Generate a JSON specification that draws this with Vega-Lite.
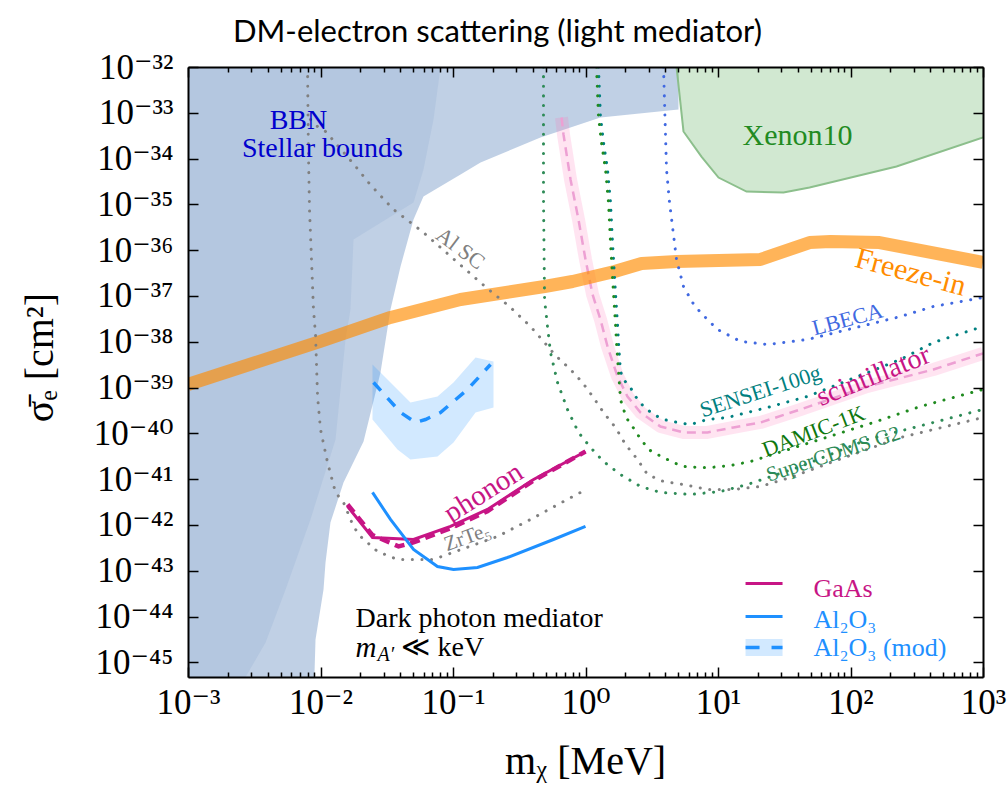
{
  "$schema": "https://vega.github.io/schema/vega-lite/v6.json",
  "width": 795,
  "height": 610,
  "autosize": {"type": "none"},
  "padding": {"left": 188, "top": 67, "right": 24, "bottom": 113},
  "background": "white",
  "config": {"view": {"stroke": null}},
  "title": {
    "text": "DM-electron scattering (light mediator)",
    "font": "Lato", "fontSize": 31, "fontWeight": "normal", "color": "black",
    "anchor": "middle", "dx": -88, "dy": 28, "offset": 5, "baseline": "alphabetic"
  },
  "resolve": {"axis": {"x": "independent", "y": "independent"}},
  "datasets": {
    "stellar": [
      {"m": 0.001, "hi": 1e-32, "lo": 1e-46}, {"m": 0.00885, "hi": 1e-32, "lo": 1e-46},
      {"m": 0.00917, "hi": 1e-32, "lo": 3.16e-45}, {"m": 0.01054, "hi": 1e-32, "lo": 3.91e-44},
      {"m": 0.01091, "hi": 1e-32, "lo": 1.52e-43}, {"m": 0.01189, "hi": 1e-32, "lo": 1.13e-42},
      {"m": 0.01492, "hi": 1e-32, "lo": 8.47e-42}, {"m": 0.02113, "hi": 1e-32, "lo": 6.65e-41},
      {"m": 0.02837, "hi": 1e-32, "lo": 2.14e-39}, {"m": 0.03374, "hi": 1e-32, "lo": 5.07e-38},
      {"m": 0.04018, "hi": 1e-32, "lo": 4.41e-37}, {"m": 0.05035, "hi": 1e-32, "lo": 4.68e-36},
      {"m": 0.05984, "hi": 1e-32, "lo": 1.49e-35}, {"m": 0.114, "hi": 1e-32, "lo": 4.5e-35},
      {"m": 0.1614, "hi": 1e-32, "lo": 8.22e-35}, {"m": 0.4571, "hi": 1e-32, "lo": 2.89e-34},
      {"m": 1.297, "hi": 1e-32, "lo": 7.89e-34}, {"m": 5.032, "hi": 1e-32, "lo": 1.18e-33}
    ],
    "bbn": [
      {"m": 0.001, "hi": 1e-32, "lo": 1e-46}, {"m": 0.00199, "hi": 1e-32, "lo": 1e-46},
      {"m": 0.00385, "hi": 1e-32, "lo": 2.72e-45}, {"m": 0.00545, "hi": 1e-32, "lo": 3.91e-44},
      {"m": 0.0084, "hi": 1e-32, "lo": 1.32e-42}, {"m": 0.01298, "hi": 1e-32, "lo": 7.36e-41},
      {"m": 0.01544, "hi": 1e-32, "lo": 1.12e-38}, {"m": 0.01683, "hi": 1e-32, "lo": 5.07e-38},
      {"m": 0.01774, "hi": 1e-32, "lo": 1.71e-36}, {"m": 0.05035, "hi": 1e-32, "lo": 1.1e-35},
      {"m": 0.05984, "hi": 1e-32, "lo": 5.78e-35}, {"m": 0.07125, "hi": 1e-32, "lo": 7.14e-34},
      {"m": 0.08049, "hi": 1e-32, "lo": 1e-32}
    ],
    "xenon": [
      {"m": 4.864, "hi": 1e-32, "lo": 1e-32}, {"m": 5.49, "hi": 1e-32, "lo": 3.91e-34},
      {"m": 7.5, "hi": 1e-32, "lo": 1.11e-34}, {"m": 10.09, "hi": 1e-32, "lo": 3.86e-35},
      {"m": 16.41, "hi": 1e-32, "lo": 1.91e-35}, {"m": 31.2, "hi": 1e-32, "lo": 1.82e-35},
      {"m": 49.1, "hi": 1e-32, "lo": 2.34e-35}, {"m": 222.4, "hi": 1e-32, "lo": 6.73e-35},
      {"m": 1000, "hi": 1e-32, "lo": 2.89e-34}
    ],
    "freezein": [
      {"m": 0.001, "s": 1.17e-39}, {"m": 0.01, "s": 1.02e-38}, {"m": 0.03374, "s": 3.4e-38},
      {"m": 0.114, "s": 8.39e-38}, {"m": 0.4909, "s": 1.61e-37}, {"m": 0.798, "s": 2.07e-37},
      {"m": 1.656, "s": 3.43e-37}, {"m": 2.648, "s": 5.13e-37}, {"m": 4.864, "s": 5.66e-37},
      {"m": 20.94, "s": 6.27e-37}, {"m": 49.1, "s": 1.47e-36}, {"m": 70.6, "s": 1.55e-36},
      {"m": 165.6, "s": 1.47e-36}, {"m": 1000, "s": 5.39e-37}
    ],
    "scintillator": [
      {"m": 0.6592, "s": 7.89e-34}, {"m": 0.6823, "s": 3.36e-34}, {"m": 0.7709, "s": 3.5e-35},
      {"m": 0.8851, "s": 4.68e-36}, {"m": 1.0, "s": 6.27e-37}, {"m": 1.13, "s": 1.08e-37},
      {"m": 1.297, "s": 3.07e-38}, {"m": 1.466, "s": 7.89e-39}, {"m": 1.745, "s": 1.75e-39},
      {"m": 2.074, "s": 6.39e-40}, {"m": 2.602, "s": 2.86e-40}, {"m": 3.68, "s": 1.41e-40},
      {"m": 5.49, "s": 1.05e-40}, {"m": 8.33, "s": 1.05e-40}, {"m": 13.09, "s": 1.35e-40},
      {"m": 20.94, "s": 1.73e-40}, {"m": 41.98, "s": 3.33e-40}, {"m": 134.3, "s": 1.06e-39},
      {"m": 422.7, "s": 2.48e-39}, {"m": 1000, "s": 5.56e-39}
    ],
    "projections": [
      {"name": "Al SC", "m": 0.0084, "s": 7.14e-34}, {"name": "Al SC", "m": 0.0095, "s": 5.02e-34},
      {"name": "Al SC", "m": 0.01091, "s": 3.91e-34}, {"name": "Al SC", "m": 0.01233, "s": 2.61e-34},
      {"name": "Al SC", "m": 0.01344, "s": 1.93e-34}, {"name": "Al SC", "m": 0.01544, "s": 1.23e-34},
      {"name": "Al SC", "m": 0.0187, "s": 6.4e-35}, {"name": "Al SC", "m": 0.02303, "s": 3.01e-35},
      {"name": "Al SC", "m": 0.02692, "s": 1.82e-35}, {"name": "Al SC", "m": 0.03556, "s": 7.74e-36},
      {"name": "Al SC", "m": 0.04775, "s": 4.03e-36}, {"name": "Al SC", "m": 0.05984, "s": 2.43e-36},
      {"name": "Al SC", "m": 0.1429, "s": 2.67e-37}, {"name": "Al SC", "m": 0.1853, "s": 1.39e-37},
      {"name": "Al SC", "m": 0.2667, "s": 5.9e-38}, {"name": "Al SC", "m": 0.3846, "s": 2.16e-38},
      {"name": "Al SC", "m": 0.4819, "s": 1.02e-38}, {"name": "Al SC", "m": 0.5938, "s": 5.02e-39},
      {"name": "Al SC", "m": 0.7709, "s": 2.48e-39}, {"name": "Al SC", "m": 0.9485, "s": 1.29e-39},
      {"name": "Al SC", "m": 1.148, "s": 6.08e-40}, {"name": "Al SC", "m": 1.367, "s": 2.86e-40},
      {"name": "Al SC", "m": 1.683, "s": 1.35e-40}, {"name": "Al SC", "m": 2.004, "s": 5.73e-41},
      {"name": "Al SC", "m": 2.469, "s": 2.69e-41}, {"name": "Al SC", "m": 2.938, "s": 1.26e-41},
      {"name": "Al SC", "m": 3.878, "s": 8.91e-42}, {"name": "Al SC", "m": 5.49, "s": 7.66e-42},
      {"name": "Al SC", "m": 8.33, "s": 5.96e-42}, {"name": "Al SC", "m": 13.09, "s": 5.96e-42},
      {"name": "Al SC", "m": 20.94, "s": 6.93e-42}, {"name": "Al SC", "m": 35.2, "s": 1.09e-41},
      {"name": "Al SC", "m": 74.5, "s": 2.43e-41}, {"name": "Al SC", "m": 238.2, "s": 8.13e-41},
      {"name": "Al SC", "m": 1000, "s": 2.22e-40},

      {"name": "ZrTe5", "m": 0.00798, "s": 1e-32}, {"name": "ZrTe5", "m": 0.0081, "s": 1.58e-34},
      {"name": "ZrTe5", "m": 0.00826, "s": 7.74e-36}, {"name": "ZrTe5", "m": 0.00855, "s": 6.27e-37},
      {"name": "ZrTe5", "m": 0.00885, "s": 5.07e-38}, {"name": "ZrTe5", "m": 0.00917, "s": 1.44e-38},
      {"name": "ZrTe5", "m": 0.0095, "s": 6.39e-40}, {"name": "ZrTe5", "m": 0.01, "s": 1.22e-40},
      {"name": "ZrTe5", "m": 0.0113, "s": 2.31e-41}, {"name": "ZrTe5", "m": 0.01298, "s": 5.13e-42},
      {"name": "ZrTe5", "m": 0.01492, "s": 3.1e-42}, {"name": "ZrTe5", "m": 0.01774, "s": 9.27e-43},
      {"name": "ZrTe5", "m": 0.02003, "s": 5.61e-43}, {"name": "ZrTe5", "m": 0.02692, "s": 2.64e-43},
      {"name": "ZrTe5", "m": 0.03811, "s": 1.77e-43}, {"name": "ZrTe5", "m": 0.05395, "s": 1.77e-43},
      {"name": "ZrTe5", "m": 0.07125, "s": 1.77e-43}, {"name": "ZrTe5", "m": 0.2168, "s": 5.61e-43},
      {"name": "ZrTe5", "m": 0.3846, "s": 1.32e-42}, {"name": "ZrTe5", "m": 0.6823, "s": 3.26e-42},
      {"name": "ZrTe5", "m": 0.9162, "s": 5.13e-42},

      {"name": "SENSEI-100g", "m": 1.253, "s": 1e-32}, {"name": "SENSEI-100g", "m": 1.297, "s": 8.3e-34},
      {"name": "SENSEI-100g", "m": 1.367, "s": 2.25e-34}, {"name": "SENSEI-100g", "m": 1.466, "s": 5.78e-35},
      {"name": "SENSEI-100g", "m": 1.544, "s": 1.1e-35}, {"name": "SENSEI-100g", "m": 1.599, "s": 1.47e-36},
      {"name": "SENSEI-100g", "m": 1.683, "s": 1.19e-37}, {"name": "SENSEI-100g", "m": 1.745, "s": 2.39e-38},
      {"name": "SENSEI-100g", "m": 1.774, "s": 9.66e-39}, {"name": "SENSEI-100g", "m": 1.837, "s": 2.24e-39},
      {"name": "SENSEI-100g", "m": 1.936, "s": 1.5e-39}, {"name": "SENSEI-100g", "m": 2.187, "s": 1e-39},
      {"name": "SENSEI-100g", "m": 2.385, "s": 6.39e-40}, {"name": "SENSEI-100g", "m": 2.742, "s": 3.87e-40},
      {"name": "SENSEI-100g", "m": 3.258, "s": 2.59e-40}, {"name": "SENSEI-100g", "m": 3.878, "s": 2.01e-40},
      {"name": "SENSEI-100g", "m": 4.946, "s": 1.73e-40}, {"name": "SENSEI-100g", "m": 6.199, "s": 1.56e-40},
      {"name": "SENSEI-100g", "m": 8.33, "s": 2.01e-40}, {"name": "SENSEI-100g", "m": 11.8, "s": 2.22e-40},
      {"name": "SENSEI-100g", "m": 16.71, "s": 2.86e-40}, {"name": "SENSEI-100g", "m": 23.65, "s": 3.68e-40},
      {"name": "SENSEI-100g", "m": 47.3, "s": 6.39e-40}, {"name": "SENSEI-100g", "m": 238.2, "s": 4.11e-39},
      {"name": "SENSEI-100g", "m": 422.7, "s": 9.66e-39}, {"name": "SENSEI-100g", "m": 1000, "s": 2.16e-38},

      {"name": "DAMIC-1K", "m": 1.21, "s": 1e-32}, {"name": "DAMIC-1K", "m": 1.253, "s": 8.3e-34},
      {"name": "DAMIC-1K", "m": 1.32, "s": 2.25e-34}, {"name": "DAMIC-1K", "m": 1.416, "s": 5.78e-35},
      {"name": "DAMIC-1K", "m": 1.491, "s": 1.1e-35}, {"name": "DAMIC-1K", "m": 1.544, "s": 1.47e-36},
      {"name": "DAMIC-1K", "m": 1.625, "s": 1.19e-37}, {"name": "DAMIC-1K", "m": 1.685, "s": 2.39e-38},
      {"name": "DAMIC-1K", "m": 1.713, "s": 9.66e-39}, {"name": "DAMIC-1K", "m": 1.837, "s": 5.5e-40},
      {"name": "DAMIC-1K", "m": 1.936, "s": 3.33e-40}, {"name": "DAMIC-1K", "m": 2.074, "s": 2.01e-40},
      {"name": "DAMIC-1K", "m": 2.265, "s": 1.41e-40}, {"name": "DAMIC-1K", "m": 2.469, "s": 9.46e-41},
      {"name": "DAMIC-1K", "m": 2.988, "s": 4.45e-41}, {"name": "DAMIC-1K", "m": 3.492, "s": 3.46e-41},
      {"name": "DAMIC-1K", "m": 4.615, "s": 2.31e-41}, {"name": "DAMIC-1K", "m": 5.49, "s": 1.89e-41},
      {"name": "DAMIC-1K", "m": 7.379, "s": 1.8e-41}, {"name": "DAMIC-1K", "m": 8.77, "s": 1.8e-41},
      {"name": "DAMIC-1K", "m": 12.42, "s": 1.99e-41}, {"name": "DAMIC-1K", "m": 17.59, "s": 2.43e-41},
      {"name": "DAMIC-1K", "m": 149.2, "s": 1.73e-40}, {"name": "DAMIC-1K", "m": 337.3, "s": 3.87e-40},
      {"name": "DAMIC-1K", "m": 1000, "s": 9.09e-40},

      {"name": "SuperCDMS G2", "m": 0.4819, "s": 1e-32}, {"name": "SuperCDMS G2", "m": 0.4819, "s": 1.28e-35},
      {"name": "SuperCDMS G2", "m": 0.4909, "s": 8.39e-38}, {"name": "SuperCDMS G2", "m": 0.5164, "s": 2.16e-38},
      {"name": "SuperCDMS G2", "m": 0.5445, "s": 5.83e-39}, {"name": "SuperCDMS G2", "m": 0.615, "s": 1.29e-39},
      {"name": "SuperCDMS G2", "m": 0.731, "s": 3.33e-40}, {"name": "SuperCDMS G2", "m": 0.8851, "s": 1.05e-40},
      {"name": "SuperCDMS G2", "m": 1.091, "s": 4.92e-41}, {"name": "SuperCDMS G2", "m": 1.367, "s": 2.43e-41},
      {"name": "SuperCDMS G2", "m": 1.837, "s": 1.26e-41}, {"name": "SuperCDMS G2", "m": 2.602, "s": 6.93e-42},
      {"name": "SuperCDMS G2", "m": 3.68, "s": 5.13e-42}, {"name": "SuperCDMS G2", "m": 6.199, "s": 4.64e-42},
      {"name": "SuperCDMS G2", "m": 10.44, "s": 5.38e-42}, {"name": "SuperCDMS G2", "m": 16.71, "s": 7.66e-42},
      {"name": "SuperCDMS G2", "m": 41.98, "s": 1.89e-41}, {"name": "SuperCDMS G2", "m": 134.3, "s": 7.36e-41},
      {"name": "SuperCDMS G2", "m": 422.7, "s": 1.73e-40}, {"name": "SuperCDMS G2", "m": 1000, "s": 3.33e-40},

      {"name": "LBECA", "m": 3.878, "s": 1e-32}, {"name": "LBECA", "m": 4.087, "s": 5.78e-35},
      {"name": "LBECA", "m": 4.306, "s": 1.1e-35}, {"name": "LBECA", "m": 4.864, "s": 6.27e-37},
      {"name": "LBECA", "m": 5.49, "s": 1.61e-37}, {"name": "LBECA", "m": 6.424, "s": 7.21e-38},
      {"name": "LBECA", "m": 7.379, "s": 4.36e-38}, {"name": "LBECA", "m": 9.91, "s": 1.86e-38},
      {"name": "LBECA", "m": 14.79, "s": 1.02e-38}, {"name": "LBECA", "m": 23.65, "s": 8.73e-39},
      {"name": "LBECA", "m": 47.3, "s": 1.12e-38}, {"name": "LBECA", "m": 238.2, "s": 3.56e-38},
      {"name": "LBECA", "m": 422.7, "s": 5.9e-38}, {"name": "LBECA", "m": 1000, "s": 9.27e-38}
    ],
    "al2o3_mod_band": [
      {"m": 0.02468, "hi": 3.19e-39, "lo": 2.01e-40}, {"m": 0.03811, "hi": 9.09e-40, "lo": 4.45e-41},
      {"m": 0.04775, "hi": 4.73e-40, "lo": 2.69e-41}, {"m": 0.07638, "hi": 6.39e-40, "lo": 3.13e-41},
      {"m": 0.1009, "hi": 1.29e-39, "lo": 6.32e-41}, {"m": 0.1479, "hi": 4.54e-39, "lo": 2.86e-40},
      {"m": 0.2022, "hi": 3.72e-39, "lo": 3.68e-40}
    ],
    "al2o3_mod": [
      {"m": 0.02512, "s": 1.29e-39}, {"m": 0.04018, "s": 2.86e-40}, {"m": 0.05212, "s": 1.73e-40},
      {"m": 0.06194, "s": 2.01e-40}, {"m": 0.08049, "s": 2.86e-40}, {"m": 0.1286, "s": 9.09e-40},
      {"m": 0.1919, "s": 3.19e-39}
    ],
    "gaas": [
      {"m": 0.016, "s": 2.54e-42}, {"m": 0.02468, "s": 5.33e-43}, {"m": 0.05035, "s": 4.82e-43},
      {"m": 0.09572, "s": 9.27e-43}, {"m": 0.182, "s": 2.18e-42}, {"m": 0.4054, "s": 9.84e-42},
      {"m": 1.0, "s": 4.03e-41}
    ],
    "gaas_alt": [
      {"m": 0.016, "s": 2.8e-42}, {"m": 0.02468, "s": 6.0e-43}, {"m": 0.03881, "s": 3.4e-43},
      {"m": 0.05035, "s": 4.15e-43}, {"m": 0.09572, "s": 8.5e-43}, {"m": 0.182, "s": 2.0e-42},
      {"m": 0.4054, "s": 9.3e-42}, {"m": 1.0, "s": 4.03e-41}
    ],
    "al2o3": [
      {"m": 0.02468, "s": 5.13e-42}, {"m": 0.03374, "s": 1.32e-42}, {"m": 0.05035, "s": 2.92e-43},
      {"m": 0.07638, "s": 1.24e-43}, {"m": 0.1009, "s": 1.07e-43}, {"m": 0.1531, "s": 1.18e-43},
      {"m": 0.2576, "s": 1.95e-43}, {"m": 0.5728, "s": 4.82e-43}, {"m": 1.0, "s": 9.27e-43}
    ],
    "key": [
      {"name": "GaAs", "m0": 16.14, "m1": 30.7, "s": 5.28e-44, "mt": 52.6, "st": 3.9e-44},
      {"name": "Al₂O₃", "m0": 16.14, "m1": 30.7, "s": 1.0e-44, "mt": 52.6, "st": 8.22e-45},
      {"name": "Al₂O₃ (mod)", "m0": 16.14, "m1": 30.7, "s": 2.11e-45, "mt": 52.6, "st": 2.11e-45}
    ]
  },
  "layer": [
    {
      "data": {"name": "stellar"},
      "mark": {"type": "area", "orient": "vertical", "color": "#b0c4de", "opacity": 0.8, "clip": true},
      "encoding": {
        "x": {
          "field": "m", "type": "quantitative",
          "scale": {"type": "log", "domain": [0.001, 1000], "nice": false},
          "axis": {
            "orient": "bottom", "grid": false, "zindex": 1,
            "values": [0.001,0.002,0.003,0.004,0.005,0.006,0.007,0.008,0.009,0.01,0.02,0.03,0.04,0.05,0.06,0.07,0.08,0.09,0.1,0.2,0.3,0.4,0.5,0.6,0.7,0.8,0.9,1,2,3,4,5,6,7,8,9,10,20,30,40,50,60,70,80,90,100,200,300,400,500,600,700,800,900,1000],
            "domainColor": "black", "domainWidth": 2,
            "tickColor": "black", "tickWidth": 1.5,
            "tickSize": {"condition": {"test": "abs(log(datum.value)/LN10 - round(log(datum.value)/LN10)) > 0.001", "value": -5}, "value": -10},
            "labelFont": "Liberation Serif, DejaVu Serif", "labelFontSize": 35, "labelColor": "black",
            "labelPadding": 18, "labelFlush": false, "labelOverlap": false, "labelBaseline": "top",
            "labelExpr": "abs(log(datum.value)/LN10 - round(log(datum.value)/LN10)) > 0.001 ? '' : '10' + (round(log(datum.value)/LN10) < 0 ? '⁻' : '') + (abs(round(log(datum.value)/LN10)) >= 10 ? substring('⁰¹²³⁴⁵⁶⁷⁸⁹', floor(abs(round(log(datum.value)/LN10))/10), floor(abs(round(log(datum.value)/LN10))/10) + 1) : '') + substring('⁰¹²³⁴⁵⁶⁷⁸⁹', abs(round(log(datum.value)/LN10)) % 10, abs(round(log(datum.value)/LN10)) % 10 + 1)",
            "title": "mᵪ [MeV]", "titleFont": "Liberation Serif, DejaVu Serif", "titleFontSize": 40,
            "titleFontWeight": "normal", "titleColor": "black",
            "titleX": 397, "titleY": 96, "titleBaseline": "alphabetic", "titleAlign": "center"
          }
        },
        "y": {
          "field": "hi", "type": "quantitative",
          "scale": {"type": "log", "domain": [4.79e-46, 1e-32], "nice": false},
          "axis": {
            "orient": "left", "grid": false, "zindex": 1,
            "values": [1e-32,1e-33,1e-34,1e-35,1e-36,1e-37,1e-38,1e-39,1e-40,1e-41,1e-42,1e-43,1e-44,1e-45],
            "domainColor": "black", "domainWidth": 2,
            "tickColor": "black", "tickWidth": 1.5, "tickSize": -10,
            "labelFont": "Liberation Serif, DejaVu Serif", "labelFontSize": 35, "labelColor": "black",
            "labelPadding": 25, "labelFlush": false, "labelOverlap": false, "labelBaseline": "middle",
            "labelExpr": "'10' + (round(log(datum.value)/LN10) < 0 ? '⁻' : '') + (abs(round(log(datum.value)/LN10)) >= 10 ? substring('⁰¹²³⁴⁵⁶⁷⁸⁹', floor(abs(round(log(datum.value)/LN10))/10), floor(abs(round(log(datum.value)/LN10))/10) + 1) : '') + substring('⁰¹²³⁴⁵⁶⁷⁸⁹', abs(round(log(datum.value)/LN10)) % 10, abs(round(log(datum.value)/LN10)) % 10 + 1)",
            "title": "σ̄ₑ [cm²]", "titleFont": "Liberation Serif, DejaVu Serif", "titleFontSize": 40,
            "titleFontWeight": "normal", "titleColor": "black", "titleAngle": 270,
            "titleX": -148, "titleY": 290, "titleBaseline": "middle", "titleAlign": "center"
          }
        },
        "y2": {"field": "lo"}
      }
    },
    {
      "data": {"name": "bbn"},
      "mark": {"type": "area", "orient": "vertical", "color": "#b0c4de", "opacity": 0.8, "clip": true},
      "encoding": {
        "x": {
          "field": "m", "type": "quantitative",
          "axis": {
            "orient": "top", "grid": false, "zindex": 1, "labels": false, "title": null,
            "values": [0.001,0.002,0.003,0.004,0.005,0.006,0.007,0.008,0.009,0.01,0.02,0.03,0.04,0.05,0.06,0.07,0.08,0.09,0.1,0.2,0.3,0.4,0.5,0.6,0.7,0.8,0.9,1,2,3,4,5,6,7,8,9,10,20,30,40,50,60,70,80,90,100,200,300,400,500,600,700,800,900,1000],
            "domainColor": "black", "domainWidth": 2,
            "tickColor": "black", "tickWidth": 1.5,
            "tickSize": {"condition": {"test": "abs(log(datum.value)/LN10 - round(log(datum.value)/LN10)) > 0.001", "value": -5}, "value": -10}
          }
        },
        "y": {
          "field": "hi", "type": "quantitative",
          "axis": {
            "orient": "right", "grid": false, "zindex": 1, "labels": false, "title": null,
            "values": [1e-32,1e-33,1e-34,1e-35,1e-36,1e-37,1e-38,1e-39,1e-40,1e-41,1e-42,1e-43,1e-44,1e-45],
            "domainColor": "black", "domainWidth": 2,
            "tickColor": "black", "tickWidth": 1.5, "tickSize": -10
          }
        },
        "y2": {"field": "lo"}
      }
    },
    {
      "data": {"name": "xenon"},
      "mark": {"type": "area", "orient": "vertical", "color": "green", "opacity": 0.18, "clip": true},
      "encoding": {
        "x": {"field": "m", "type": "quantitative", "axis": null},
        "y": {"field": "hi", "type": "quantitative", "axis": null},
        "y2": {"field": "lo"}
      }
    },
    {
      "data": {"name": "xenon"},
      "mark": {"type": "line", "color": "#8cbf8c", "strokeWidth": 2, "clip": true},
      "encoding": {
        "x": {"field": "m", "type": "quantitative", "axis": null},
        "y": {"field": "lo", "type": "quantitative", "axis": null}
      }
    },
    {
      "data": {"name": "scintillator"},
      "mark": {"type": "line", "color": "hotpink", "opacity": 0.18, "strokeWidth": 13, "strokeJoin": "round", "clip": true},
      "encoding": {
        "x": {"field": "m", "type": "quantitative", "axis": null},
        "y": {"field": "s", "type": "quantitative", "axis": null},
        "order": {"value": null}
      }
    },
    {
      "data": {"name": "scintillator"},
      "mark": {"type": "line", "color": "#eda0d3", "strokeWidth": 2.5, "strokeDash": [9, 6], "clip": true},
      "encoding": {
        "x": {"field": "m", "type": "quantitative", "axis": null},
        "y": {"field": "s", "type": "quantitative", "axis": null},
        "order": {"value": null}
      }
    },
    {
      "data": {"name": "freezein"},
      "mark": {"type": "line", "color": "#ff8c00", "opacity": 0.65, "strokeWidth": 13, "strokeJoin": "round", "clip": true},
      "encoding": {
        "x": {"field": "m", "type": "quantitative", "axis": null},
        "y": {"field": "s", "type": "quantitative", "axis": null}
      }
    },
    {
      "data": {"name": "projections"},
      "mark": {"type": "line", "strokeWidth": 3, "strokeDash": [0.1, 9.5], "strokeCap": "round", "clip": true},
      "encoding": {
        "x": {"field": "m", "type": "quantitative", "axis": null},
        "y": {"field": "s", "type": "quantitative", "axis": null},
        "color": {
          "field": "name", "type": "nominal", "legend": null,
          "scale": {
            "domain": ["Al SC", "ZrTe5", "SENSEI-100g", "DAMIC-1K", "SuperCDMS G2", "LBECA"],
            "range": ["#808080", "#808080", "#008080", "#1f8a1f", "#2e8b57", "#4169e1"]
          }
        },
        "order": {"value": null}
      }
    },
    {
      "data": {"name": "al2o3_mod_band"},
      "mark": {"type": "area", "orient": "vertical", "color": "#1e90ff", "opacity": 0.2, "clip": true},
      "encoding": {
        "x": {"field": "m", "type": "quantitative", "axis": null},
        "y": {"field": "hi", "type": "quantitative", "axis": null},
        "y2": {"field": "lo"}
      }
    },
    {
      "data": {"name": "al2o3_mod"},
      "mark": {"type": "line", "color": "#1e90ff", "strokeWidth": 3.5, "strokeDash": [11, 10], "clip": true},
      "encoding": {
        "x": {"field": "m", "type": "quantitative", "axis": null},
        "y": {"field": "s", "type": "quantitative", "axis": null}
      }
    },
    {
      "data": {"name": "gaas_alt"},
      "mark": {"type": "line", "color": "#c71585", "strokeWidth": 4.5, "strokeDash": [10, 6], "clip": true},
      "encoding": {
        "x": {"field": "m", "type": "quantitative", "axis": null},
        "y": {"field": "s", "type": "quantitative", "axis": null}
      }
    },
    {
      "data": {"name": "gaas"},
      "mark": {"type": "line", "color": "#c71585", "strokeWidth": 3, "clip": true},
      "encoding": {
        "x": {"field": "m", "type": "quantitative", "axis": null},
        "y": {"field": "s", "type": "quantitative", "axis": null}
      }
    },
    {
      "data": {"name": "al2o3"},
      "mark": {"type": "line", "color": "#1e90ff", "strokeWidth": 3, "clip": true},
      "encoding": {
        "x": {"field": "m", "type": "quantitative", "axis": null},
        "y": {"field": "s", "type": "quantitative", "axis": null}
      }
    },
    {
      "data": {"values": [{"m": 0.00682, "s": 6.46e-34, "label": "BBN"}, {"m": 0.01035, "s": 1.58e-34, "label": "Stellar bounds"}]},
      "mark": {"type": "text", "font": "Liberation Serif", "fontSize": 28, "color": "#0000cd", "align": "center", "baseline": "middle"},
      "encoding": {
        "x": {"field": "m", "type": "quantitative", "axis": null},
        "y": {"field": "s", "type": "quantitative", "axis": null},
        "text": {"field": "label"}
      }
    },
    {
      "data": {"values": [{"m": 39.8, "s": 3.04e-34, "label": "Xenon10"}]},
      "mark": {"type": "text", "font": "Liberation Serif", "fontSize": 30, "color": "#228b22", "align": "center", "baseline": "middle"},
      "encoding": {
        "x": {"field": "m", "type": "quantitative", "axis": null},
        "y": {"field": "s", "type": "quantitative", "axis": null},
        "text": {"field": "label"}
      }
    },
    {
      "data": {"values": [{"m": 283.8, "s": 3.26e-37, "label": "Freeze-in"}]},
      "mark": {"type": "text", "font": "Liberation Serif", "fontSize": 30, "color": "#ff8c00", "align": "center", "baseline": "middle", "angle": 15},
      "encoding": {
        "x": {"field": "m", "type": "quantitative", "axis": null},
        "y": {"field": "s", "type": "quantitative", "axis": null},
        "text": {"field": "label"}
      }
    },
    {
      "data": {"values": [{"m": 94.9, "s": 3.07e-38, "label": "LBECA"}]},
      "mark": {"type": "text", "font": "Liberation Serif", "fontSize": 22, "color": "#4169e1", "align": "center", "baseline": "middle", "angle": 345},
      "encoding": {
        "x": {"field": "m", "type": "quantitative", "axis": null},
        "y": {"field": "s", "type": "quantitative", "axis": null},
        "text": {"field": "label"}
      }
    },
    {
      "data": {"values": [{"m": 20.94, "s": 8.22e-40, "label": "SENSEI-100g"}]},
      "mark": {"type": "text", "font": "Liberation Serif", "fontSize": 22, "color": "#008080", "align": "center", "baseline": "middle", "angle": 342},
      "encoding": {
        "x": {"field": "m", "type": "quantitative", "axis": null},
        "y": {"field": "s", "type": "quantitative", "axis": null},
        "text": {"field": "label"}
      }
    },
    {
      "data": {"values": [{"m": 149.2, "s": 1.75e-39, "label": "scintillator"}]},
      "mark": {"type": "text", "font": "Liberation Serif", "fontSize": 28, "color": "#c71585", "align": "center", "baseline": "middle", "angle": 338},
      "encoding": {
        "x": {"field": "m", "type": "quantitative", "axis": null},
        "y": {"field": "s", "type": "quantitative", "axis": null},
        "text": {"field": "label"}
      }
    },
    {
      "data": {"values": [{"m": 52.6, "s": 1.1e-40, "label": "DAMIC-1K"}]},
      "mark": {"type": "text", "font": "Liberation Serif", "fontSize": 22, "color": "#0f780f", "align": "center", "baseline": "middle", "angle": 339},
      "encoding": {
        "x": {"field": "m", "type": "quantitative", "axis": null},
        "y": {"field": "s", "type": "quantitative", "axis": null},
        "text": {"field": "label"}
      }
    },
    {
      "data": {"values": [{"m": 74.5, "s": 3.46e-41, "label": "SuperCDMS G2"}]},
      "mark": {"type": "text", "font": "Liberation Serif", "fontSize": 21, "color": "#2e8b57", "align": "center", "baseline": "middle", "angle": 342},
      "encoding": {
        "x": {"field": "m", "type": "quantitative", "axis": null},
        "y": {"field": "s", "type": "quantitative", "axis": null},
        "text": {"field": "label"}
      }
    },
    {
      "data": {"values": [{"m": 0.114, "s": 1.09e-36, "label": "Al SC"}]},
      "mark": {"type": "text", "font": "Liberation Serif", "fontSize": 22, "color": "#808080", "align": "center", "baseline": "middle", "angle": 37},
      "encoding": {
        "x": {"field": "m", "type": "quantitative", "axis": null},
        "y": {"field": "s", "type": "quantitative", "axis": null},
        "text": {"field": "label"}
      }
    },
    {
      "data": {"values": [{"m": 0.1286, "s": 5.33e-43, "label": "ZrTe₅"}]},
      "mark": {"type": "text", "font": "Liberation Serif, DejaVu Serif", "fontSize": 21, "color": "#808080", "align": "center", "baseline": "middle", "angle": 340},
      "encoding": {
        "x": {"field": "m", "type": "quantitative", "axis": null},
        "y": {"field": "s", "type": "quantitative", "axis": null},
        "text": {"field": "label"}
      }
    },
    {
      "data": {"values": [{"m": 0.1698, "s": 5.13e-42, "label": "phonon"}]},
      "mark": {"type": "text", "font": "Liberation Serif", "fontSize": 29, "color": "#c71585", "align": "center", "baseline": "middle", "angle": 328},
      "encoding": {
        "x": {"field": "m", "type": "quantitative", "axis": null},
        "y": {"field": "s", "type": "quantitative", "axis": null},
        "text": {"field": "label"}
      }
    },
    {
      "data": {"values": [{"m": 0.01837, "s": 8.65e-45, "label": "Dark photon mediator"}]},
      "mark": {"type": "text", "font": "Liberation Serif", "fontSize": 28, "color": "black", "align": "left", "baseline": "middle"},
      "encoding": {
        "x": {"field": "m", "type": "quantitative", "axis": null},
        "y": {"field": "s", "type": "quantitative", "axis": null},
        "text": {"field": "label"}
      }
    },
    {
      "data": {"values": [{"m": 0.01837, "s": 2.11e-45, "label": "m"}]},
      "mark": {"type": "text", "font": "Liberation Serif", "fontSize": 29, "fontStyle": "italic", "color": "black", "align": "left", "baseline": "middle"},
      "encoding": {
        "x": {"field": "m", "type": "quantitative", "axis": null},
        "y": {"field": "s", "type": "quantitative", "axis": null},
        "text": {"field": "label"}
      }
    },
    {
      "data": {"values": [{"m": 0.01837, "s": 2.11e-45, "label": "A′"}]},
      "mark": {"type": "text", "font": "Liberation Serif", "fontSize": 20, "fontStyle": "italic", "color": "black", "align": "left", "baseline": "middle", "dx": 22, "dy": 7},
      "encoding": {
        "x": {"field": "m", "type": "quantitative", "axis": null},
        "y": {"field": "s", "type": "quantitative", "axis": null},
        "text": {"field": "label"}
      }
    },
    {
      "data": {"values": [{"m": 0.01837, "s": 2.11e-45, "label": "≪ keV"}]},
      "mark": {"type": "text", "font": "Liberation Serif, DejaVu Serif", "fontSize": 28, "color": "black", "align": "left", "baseline": "middle", "dx": 46},
      "encoding": {
        "x": {"field": "m", "type": "quantitative", "axis": null},
        "y": {"field": "s", "type": "quantitative", "axis": null},
        "text": {"field": "label"}
      }
    },
    {
      "data": {"name": "key"},
      "transform": [{"filter": "datum.name === 'Al₂O₃ (mod)'"}],
      "mark": {"type": "rect", "color": "#1e90ff", "opacity": 0.2, "height": 17},
      "encoding": {
        "x": {"field": "m0", "type": "quantitative", "axis": null},
        "x2": {"field": "m1"},
        "y": {"field": "s", "type": "quantitative", "axis": null}
      }
    },
    {
      "data": {"name": "key"},
      "transform": [{"filter": "datum.name === 'GaAs'"}],
      "mark": {"type": "rule", "color": "#c71585", "strokeWidth": 3},
      "encoding": {
        "x": {"field": "m0", "type": "quantitative", "axis": null},
        "x2": {"field": "m1"},
        "y": {"field": "s", "type": "quantitative", "axis": null}
      }
    },
    {
      "data": {"name": "key"},
      "transform": [{"filter": "datum.name === 'Al₂O₃'"}],
      "mark": {"type": "rule", "color": "#1e90ff", "strokeWidth": 3},
      "encoding": {
        "x": {"field": "m0", "type": "quantitative", "axis": null},
        "x2": {"field": "m1"},
        "y": {"field": "s", "type": "quantitative", "axis": null}
      }
    },
    {
      "data": {"name": "key"},
      "transform": [{"filter": "datum.name === 'Al₂O₃ (mod)'"}],
      "mark": {"type": "rule", "color": "#1e90ff", "strokeWidth": 3.5, "strokeDash": [14, 12]},
      "encoding": {
        "x": {"field": "m0", "type": "quantitative", "axis": null},
        "x2": {"field": "m1"},
        "y": {"field": "s", "type": "quantitative", "axis": null}
      }
    },
    {
      "data": {"name": "key"},
      "transform": [{"filter": "datum.name === 'GaAs'"}],
      "mark": {"type": "text", "font": "Liberation Serif, DejaVu Serif", "fontSize": 26, "align": "left", "baseline": "middle", "color": "#c71585"},
      "encoding": {
        "x": {"field": "mt", "type": "quantitative", "axis": null},
        "y": {"field": "st", "type": "quantitative", "axis": null},
        "text": {"field": "name"}
      }
    },
    {
      "data": {"name": "key"},
      "transform": [{"filter": "datum.name !== 'GaAs'"}],
      "mark": {"type": "text", "font": "Liberation Serif, DejaVu Serif", "fontSize": 26, "align": "left", "baseline": "middle", "color": "#1e90ff"},
      "encoding": {
        "x": {"field": "mt", "type": "quantitative", "axis": null},
        "y": {"field": "st", "type": "quantitative", "axis": null},
        "text": {"field": "name"}
      }
    }
  ]
}
